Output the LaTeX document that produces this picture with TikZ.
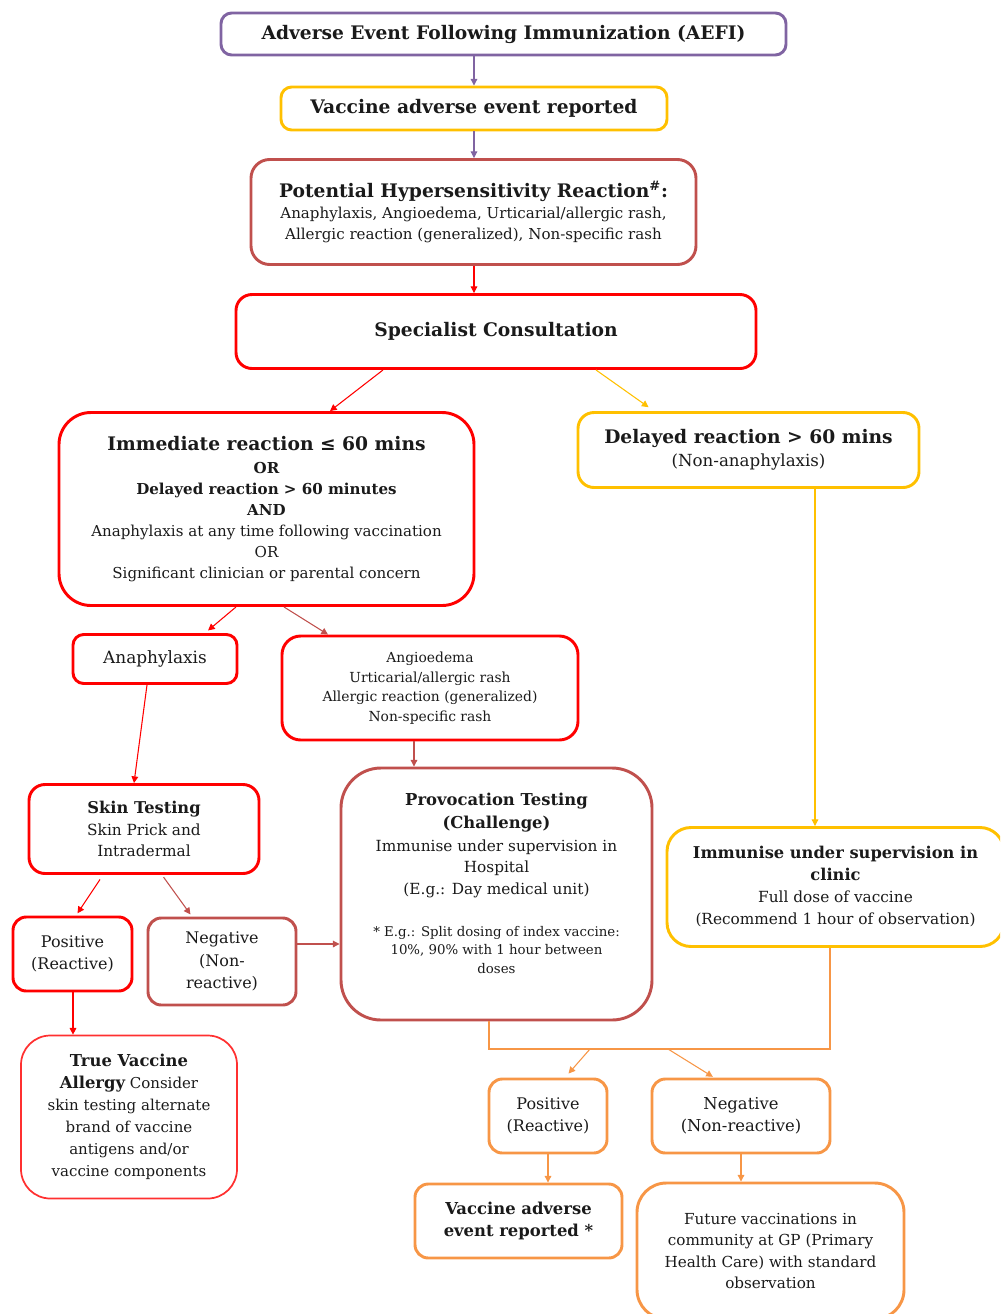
\documentclass[tikz,border=0pt]{standalone}
\usepackage{fontspec}
\setmainfont{DejaVu Serif}
\usetikzlibrary{arrows.meta,calc}
\definecolor{cpurple}{HTML}{8064A2}
\definecolor{cgold}{HTML}{FFC000}
\definecolor{cbrown}{HTML}{C0504D}
\definecolor{cred}{HTML}{FF0000}
\definecolor{clred}{HTML}{FF3030}
\definecolor{corange}{HTML}{F79646}
\definecolor{ctext}{HTML}{1A1A1A}
\begin{document}
\begin{tikzpicture}[x=0.75pt,y=-0.75pt,
  box/.style={draw, line width=2.2pt, rounded corners=8pt, align=center, inner sep=0pt, text=ctext},
  wh/.style 2 args={minimum width=#1*0.75pt, minimum height=#2*0.75pt},
  conn/.style={line width=0.8pt, -{Triangle[length=5pt,width=5pt]}},
  ftitle/.style={font=\fontsize{14}{17}\selectfont\bfseries},
  fbody/.style={font=\fontsize{11.3}{15.75}\selectfont},
  fmid/.style={font=\fontsize{11.5}{16}\selectfont},
  fsmall/.style={font=\fontsize{10.4}{14.6}\selectfont},
]
\useasboundingbox (0,0) rectangle (1000,1314);
\clip (0,0) rectangle (1000,1314);

% ---- nodes ----
\node[box, draw=cpurple, wh={565}{42}, ftitle] (aefi) at (503.5,34) {Adverse Event Following Immunization (AEFI)};
\node[box, draw=cgold, wh={386}{43}, ftitle] (rep) at (474,108.5) {Vaccine adverse event reported};
\node[box, draw=cbrown, rounded corners=14pt, wh={445}{105}, fbody] (pot) at (473.5,212)
  {{\fontsize{14}{17}\selectfont\bfseries Potential Hypersensitivity Reaction\textsuperscript{\#}:}\\
   Anaphylaxis, Angioedema, Urticarial/allergic rash,\\
   Allergic reaction (generalized), Non-specific rash};
\node[box, draw=cred, rounded corners=12pt, wh={520}{74}, ftitle] (spec) at (496,331.5) {Specialist Consultation};
\node[box, draw=cred, rounded corners=24pt, wh={415}{193}, fbody] (imm) at (266.5,509)
  {{\fontsize{14}{17}\selectfont\bfseries Immediate reaction ≤ 60 mins}\\[1pt]
   {\bfseries OR}\\
   {\bfseries Delayed reaction > 60 minutes}\\
   {\bfseries AND}\\
   Anaphylaxis at any time following vaccination\\
   OR\\
   Significant clinician or parental concern};
\node[box, draw=cgold, rounded corners=12pt, wh={341}{75}, font=\fontsize{12.5}{17.5}\selectfont] (del) at (748.5,450)
  {{\fontsize{14}{17}\selectfont\bfseries Delayed reaction > 60 mins}\\
   (Non-anaphylaxis)};
\node[box, draw=cred, wh={164}{49}, font=\fontsize{12.7}{16}\selectfont] (ana) at (155,659) {Anaphylaxis};
\node[box, draw=cred, rounded corners=14pt, wh={296}{104}, fsmall] (ang) at (430,688)
  {Angioedema\\ Urticarial/allergic rash\\ Allergic reaction (generalized)\\ Non-specific rash};
\node[box, draw=cred, rounded corners=12pt, wh={230}{89}, fmid] (skin) at (144,829)
  {{\fontsize{12.2}{16}\selectfont\bfseries Skin Testing}\\ Skin Prick and\\ Intradermal};
\node[box, draw=cbrown, rounded corners=30pt, wh={311}{252}, fmid] (prov) at (496.5,894)
  {{\fontsize{12.3}{16}\selectfont\bfseries Provocation Testing}\\[1.3pt]
   {\fontsize{12.3}{16}\selectfont\bfseries (Challenge)}\\[1.3pt]
   Immunise under supervision in\\
   Hospital\\
   (E.g.: Day medical unit)\\[15.5pt]
   {\fontsize{10}{14}\selectfont * E.g.: Split dosing of index vaccine:}\\[-1.8pt]
   {\fontsize{10}{14}\selectfont 10\%, 90\% with 1 hour between}\\[-1.8pt]
   {\fontsize{10}{14}\selectfont doses}\\\mbox{}};
\node[box, draw=cgold, rounded corners=18pt, wh={337}{119}, font=\fontsize{11.5}{16.5}\selectfont] (clin) at (835.5,887)
  {{\fontsize{12.2}{16}\selectfont\bfseries Immunise under supervision in}\\
   {\fontsize{12.2}{16}\selectfont\bfseries clinic}\\
   Full dose of vaccine\\
   (Recommend 1 hour of observation)};
\node[box, draw=cred, rounded corners=10pt, wh={119}{74}, font=\fontsize{12}{16.5}\selectfont] (pos) at (72.5,954) {Positive\\ (Reactive)};
\node[box, draw=cbrown, rounded corners=10pt, wh={148}{87}, font=\fontsize{12}{17}\selectfont] (neg) at (222,961.5) {Negative\\ (Non-\\ reactive)};
\node[box, draw=clred, line width=1.3pt, rounded corners=22pt, wh={216}{163}, font=\fontsize{11.25}{16.5}\selectfont] (tva) at (129,1117)
  {{\fontsize{12.3}{16}\selectfont\bfseries True Vaccine}\\
   {\fontsize{12.3}{16}\selectfont\bfseries Allergy} Consider\\
   skin testing alternate\\
   brand of vaccine\\
   antigens and/or\\
   vaccine components};
\node[box, draw=corange, rounded corners=10pt, wh={118}{74}, font=\fontsize{12}{16.5}\selectfont] (opos) at (548,1116) {Positive\\ (Reactive)};
\node[box, draw=corange, rounded corners=10pt, wh={178}{74}, font=\fontsize{12.3}{16.5}\selectfont] (oneg) at (741,1116) {Negative\\ (Non-reactive)};
\node[box, draw=corange, rounded corners=10pt, wh={207}{74}, font=\fontsize{12.3}{17}\selectfont\bfseries] (vrep) at (518.5,1221)
  {Vaccine adverse\\ event reported *};
\node[box, draw=corange, rounded corners=22pt, wh={267}{136}, font=\fontsize{11.4}{16}\selectfont] (fut) at (770.5,1251)
  {Future vaccinations in\\ community at GP (Primary\\ Health Care) with standard\\ observation};

% ---- connectors ----
\draw[conn, cpurple] (474,0 |- aefi.south) -- (rep.north);
\draw[conn, cpurple] (474,0 |- rep.south) -- (474,0 |- pot.north);
\draw[conn, cred] (474,0 |- pot.south) -- (474,0 |- spec.north);
\draw[conn, cred] (383,0 |- spec.south) -- (330,0 |- imm.north);
\draw[conn, cgold, shorten >=5pt] (596,0 |- spec.south) -- (654,0 |- del.north);
\draw[conn, cgold] (815,0 |- del.south) -- (815,0 |- clin.north);
\draw[conn, cred, shorten >=3pt] (236,0 |- imm.south) -- (205,0 |- ana.north);
\draw[conn, cbrown] (284,0 |- imm.south) -- (328,0 |- ang.north);
\draw[conn, cred] (147,0 |- ana.south) -- (134,0 |- skin.north);
\draw[conn, cbrown] (414,0 |- ang.south) -- (414,0 |- prov.north);
\draw[conn, cred, shorten <=4pt, shorten >=2pt] (103,0 |- skin.south) -- (76,0 |- pos.north);
\draw[conn, cbrown, shorten <=2pt, shorten >=2pt] (162,0 |- skin.south) -- (192,0 |- neg.north);
\draw[conn, cbrown] (neg.east |- 0,944) -- (prov.west |- 0,944);
\draw[conn, cred] (73,0 |- pos.south) -- (73,0 |- tva.north);
\draw[corange, line width=2.2pt] (489,0 |- prov.south) |- (830,1049) -- (830,0 |- clin.south);
\coordinate (barL) at (590,1049);
\coordinate (barR) at (668,1049);
\draw[conn, corange, shorten >=4pt] (barL) -- (565,0 |- opos.north);
\draw[conn, corange, shorten >=1pt] (barR) -- (714,0 |- oneg.north);
\draw[conn, corange] (548,0 |- opos.south) -- (548,0 |- vrep.north);
\draw[conn, corange] (741,0 |- oneg.south) -- (741,0 |- fut.north);
\end{tikzpicture}
\end{document}
